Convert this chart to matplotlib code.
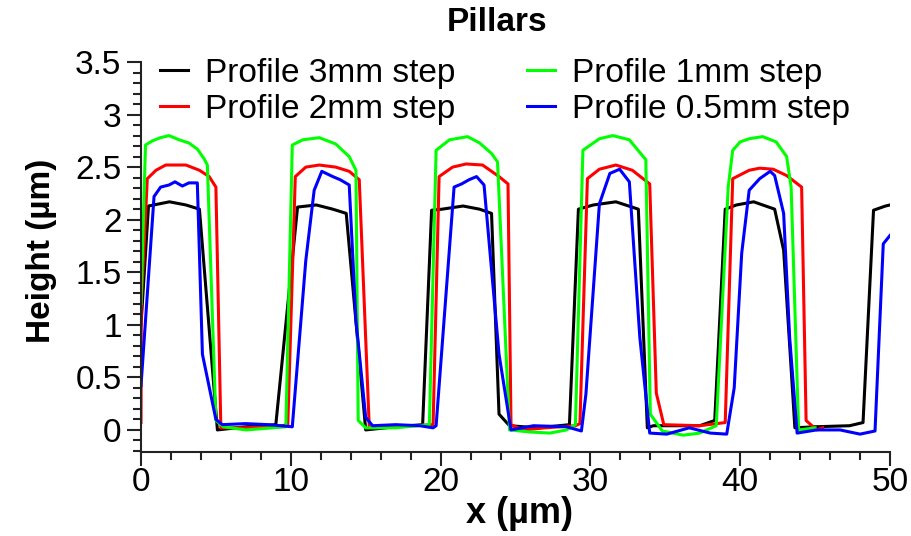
import matplotlib
matplotlib.use("Agg")
import matplotlib.pyplot as plt
from matplotlib.ticker import MultipleLocator

plt.rcParams['font.family'] = ['Liberation Sans', 'DejaVu Sans']

# %% data (x in um, height in um)
x_3mm = [0, 0.5, 1.9, 3.0, 3.9, 5.1, 7.0, 9.0, 10.45, 11.7, 12.8, 13.7, 15.0,
         17.0, 18.8, 19.4, 20.1, 21.5, 22.6, 23.4, 23.9, 24.6, 26.5, 28.6,
         29.2, 30.2, 31.7, 33.2, 33.8, 34.2, 37.3, 38.3, 39.0, 39.75, 40.9,
         42.3, 42.9, 43.65, 45.0, 47.3, 48.2, 48.9, 49.7, 50.0]
h_3mm = [1.0, 2.13, 2.17, 2.14, 2.10, 0.0, 0.03, 0.05, 2.12, 2.14, 2.10, 2.06, 0.0,
         0.03, 0.05, 2.09, 2.10, 2.13, 2.10, 2.06, 0.15, 0.04, 0.02, 0.05,
         2.10, 2.14, 2.17, 2.10, 0.02, 0.04, 0.04, 0.09, 2.10, 2.14, 2.17,
         2.10, 1.71, 0.02, 0.03, 0.04, 0.07, 2.09, 2.13, 2.14]

x_2mm = [0, 0.02, 0.42, 1.0, 1.65, 3.0, 3.9, 4.55, 5.0, 5.33, 7.0, 9.0, 9.8,
         10.3, 11.0, 11.9, 13.0, 13.9, 14.57, 15.24, 17.0, 19.5, 19.9, 20.8,
         21.7, 22.8, 23.9, 24.5, 24.7, 25.5, 27.0, 29.0, 29.3, 29.8, 30.6,
         31.7, 32.8, 33.96, 34.4, 34.9, 37.3, 39.0, 39.5, 40.6, 41.3, 42.2,
         43.1, 44.1, 44.4, 45.1, 45.5]
h_2mm = [0.07, 1.2, 2.39, 2.47, 2.52, 2.52, 2.47, 2.41, 2.31, 0.02, 0.02, 0.03, 0.05,
         2.41, 2.50, 2.52, 2.50, 2.46, 2.38, 0.02, 0.03, 0.05, 2.41, 2.50,
         2.53, 2.52, 2.41, 2.34, 0.05, 0.0, 0.02, 0.04, 0.06, 2.39, 2.48,
         2.52, 2.47, 2.34, 0.35, 0.05, 0.04, 0.07, 2.39, 2.47, 2.49, 2.48,
         2.42, 2.31, 0.09, 0.0, 0.02]

x_1mm = [0, 0.3, 0.76, 1.3, 1.87, 2.54, 3.2, 3.77, 4.21, 4.43, 5.0, 5.5, 7.0,
         9.67, 10.1, 10.8, 11.9, 13.0, 13.9, 14.35, 14.5, 15.0, 17.0, 19.25,
         19.7, 20.6, 21.8, 22.6, 23.4, 23.8, 24.6, 26.0, 27.3, 28.4, 29.0,
         29.5, 30.6, 31.5, 32.6, 33.7, 34.0, 34.8, 36.2, 37.3, 38.4, 39.2,
         39.5, 40.0, 40.6, 41.5, 42.4, 43.1, 43.4, 43.9, 45.0]
h_1mm = [1.2, 2.71, 2.75, 2.78, 2.80, 2.76, 2.73, 2.67, 2.58, 2.52, 0.09, 0.03, 0.0,
         0.03, 2.71, 2.76, 2.78, 2.72, 2.60, 2.47, 0.09, 0.02, 0.02, 0.05,
         2.66, 2.76, 2.79, 2.73, 2.63, 2.55, 0.0, -0.02, -0.03, 0.0, 0.05,
         2.66, 2.77, 2.80, 2.76, 2.57, 0.15, -0.01, -0.05, -0.03, 0.04, 2.31,
         2.66, 2.74, 2.77, 2.79, 2.74, 2.60, 2.31, 0.0, 0.02]

x_05mm = [0, 0.87, 1.31, 1.87, 2.27, 2.76, 3.2, 3.76, 4.1, 5.0, 5.43, 7.0, 8.5,
          10.1, 11.0, 11.56, 12.07, 12.8, 13.3, 13.9, 14.35, 15.0, 15.46, 17.0,
          18.6, 19.5, 19.7, 20.9, 21.4, 21.9, 22.4, 22.9, 23.9, 24.7, 26.2,
          28.4, 29.4, 29.7, 30.6, 31.3, 31.95, 32.6, 33.3, 33.96, 35.1, 36.6,
          38.0, 39.1, 39.6, 40.1, 40.6, 41.3, 42.0, 42.3, 42.9, 43.3, 43.8,
          45.1, 46.66, 48.0, 49.0, 49.55, 50.0]
h_05mm = [0.42, 2.22, 2.31, 2.33, 2.36, 2.32, 2.35, 2.35, 0.72, 0.10, 0.05, 0.06, 0.05,
          0.03, 1.61, 2.28, 2.46, 2.41, 2.38, 2.33, 1.04, 0.12, 0.04, 0.05,
          0.04, 0.02, 0.04, 2.31, 2.34, 2.38, 2.41, 2.33, 0.72, 0.0, 0.04,
          0.03, -0.01, 0.34, 2.15, 2.44, 2.48, 2.36, 0.88, -0.03, -0.04, 0.02,
          -0.03, -0.04, 0.40, 1.68, 2.28, 2.39, 2.46, 2.42, 2.06, 0.88, -0.03,
          0.0, 0.0, -0.04, -0.01, 1.77, 1.85]

labels = ["Profile 3mm step", "Profile 2mm step", "Profile 1mm step", "Profile 0.5mm step"]

# %% plot
fig = plt.figure(figsize=(9.11, 5.36), dpi=100)
ax = fig.add_axes([141/911, 1 - 452/536, 749/911, 390/536])

l1, = ax.plot(x_3mm, h_3mm, color='black', lw=2.2, label=labels[0])
l2, = ax.plot(x_2mm, h_2mm, color='#ff0000', lw=2.2, label=labels[1])
l3, = ax.plot(x_1mm, h_1mm, color='#00ff00', lw=2.2, label=labels[2])
l4, = ax.plot(x_05mm, h_05mm, color='#0000ff', lw=2.2, label=labels[3])

ax.set_xlim(0, 50)
ax.set_ylim(-0.21, 3.5)
ax.xaxis.set_major_locator(MultipleLocator(10))
ax.xaxis.set_minor_locator(MultipleLocator(2))
ax.yaxis.set_minor_locator(MultipleLocator(0.1))
ax.set_yticks([0, 0.5, 1, 1.5, 2, 2.5, 3, 3.5])
ax.set_yticklabels(["0", "0.5", "1", "1.5", "2", "2.5", "3", "3.5"])

for s in ['top', 'right']:
    ax.spines[s].set_visible(False)
for s in ['left', 'bottom']:
    ax.spines[s].set_color('#222222')
    ax.spines[s].set_linewidth(1.5)

ax.tick_params(which='major', direction='out', length=10, width=1.5,
               color='#222222', labelsize=24)
ax.tick_params(which='minor', direction='out', length=5.5, width=1.5,
               color='#222222')
ax.tick_params(axis='x', which='major', pad=1)
ax.tick_params(axis='y', which='major', pad=4)

ax.set_xlabel("x (µm)", fontsize=26, fontweight='bold')
ax.set_ylabel("Height (µm)", fontsize=24, fontweight='bold')
ax.xaxis.set_label_coords(520/911, 1 - 496/536, transform=fig.transFigure)
ax.yaxis.set_label_coords(57/911, 1 - 251/536, transform=fig.transFigure)

fig.text(497/911, 1 - 31/536, "Pillars", fontsize=24, fontweight='bold',
         ha='center', va='baseline')

leg_kw = dict(frameon=False, fontsize=24, handlelength=0.85, handletextpad=0.5,
              labelspacing=0.15, borderpad=0, borderaxespad=0, loc='upper left',
              bbox_transform=fig.transFigure)
leg1 = ax.legend(handles=[l1, l2], bbox_to_anchor=(160/911, 1 - 58/536), **leg_kw)
ax.add_artist(leg1)
ax.legend(handles=[l3, l4], bbox_to_anchor=(527/911, 1 - 58/536), **leg_kw)

fig.savefig("out.png", dpi=100)
